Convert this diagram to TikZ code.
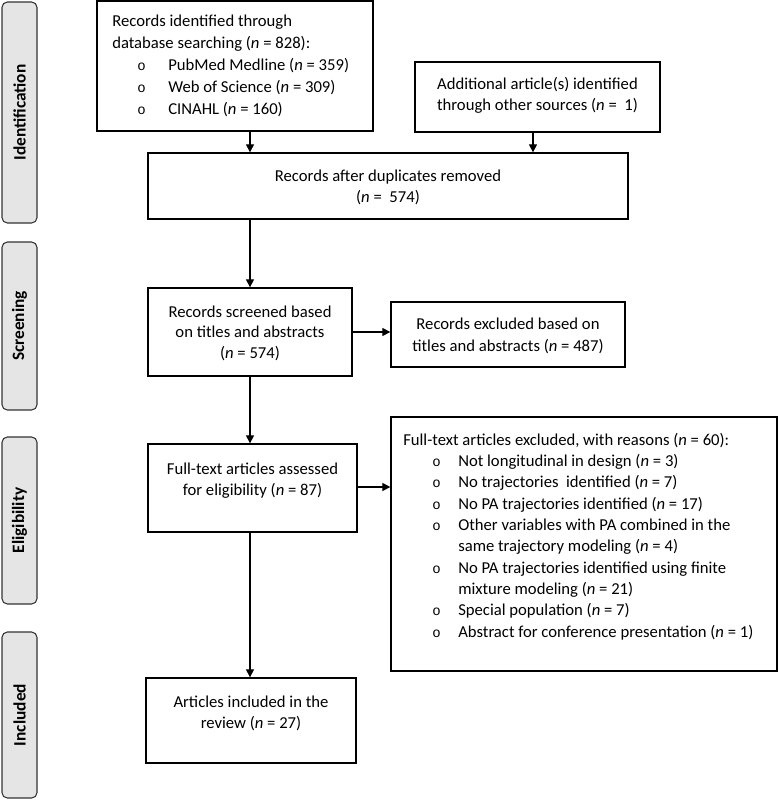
\documentclass[tikz,border=0pt]{standalone}
\usepackage{fontspec}
\setmainfont{Carlito}
\newfontfamily\bulletfont{Liberation Mono}
\usetikzlibrary{arrows.meta}
\newcommand{\nn}{\textit{n}}
\newcommand{\bulA}[1]{\hspace*{18.75pt}\makebox[23.25pt][l]{\bulletfont\fontsize{10.5pt}{10pt}\selectfont o}#1}
\newcommand{\bulB}[1]{\hspace*{21.75pt}\makebox[19.5pt][l]{\bulletfont\fontsize{10.5pt}{10pt}\selectfont o}#1}
\begin{document}
\begin{tikzpicture}[x=0.75pt,y=-0.75pt,
  box/.style={draw=black, line width=1pt, inner sep=0pt},
  sidebox/.style={draw=black!80, fill=black!10, rounded corners=4pt, line width=0.8pt, minimum width=26.25pt, inner sep=0pt},
  txt/.style={font=\fontsize{12.5pt}{16pt}\selectfont, inner sep=0pt},
  sidetxt/.style={font=\fontsize{13pt}{16pt}\selectfont\bfseries, rotate=90, inner sep=0pt},
  arr/.style={-{Triangle[length=6pt,width=6pt]}, line width=0.9pt}]
\useasboundingbox (0,0) rectangle (779,800);
% side phase boxes
\node[sidebox, minimum height=165.75pt] (s1) at (19.5,112.5) {};
\node[sidebox, minimum height=126pt] (s2) at (19.5,326) {};
\node[sidebox, minimum height=125.25pt] (s3) at (19.5,520.5) {};
\node[sidebox, minimum height=124.5pt] (s4) at (19.5,715) {};
\node[sidetxt] (l1) at (s1.center) {Identification};
\node[sidetxt] (l2) at (s2.center) {Screening};
\node[sidetxt] (l3) at (s3.center) {Eligibility};
\node[sidetxt] (l4) at (s4.center) {Included};
% boxes
\node[box, minimum width=207pt, minimum height=97.5pt] (b1) at (235,66) {};
\node[box, minimum width=183.75pt, minimum height=52.5pt] (b2) at (537.5,97) {};
\node[box, minimum width=360pt, minimum height=49.5pt] (b3) at (388,186) {};
\node[box, minimum width=153pt, minimum height=66pt] (b4) at (250,332) {};
\node[box, minimum width=175.5pt, minimum height=48.75pt] (b5) at (508,334.5) {};
\node[box, minimum width=156.75pt, minimum height=66pt] (b6) at (252.5,488) {};
\node[box, minimum width=289.5pt, minimum height=190.5pt] (b7) at (584,544) {};
\node[box, minimum width=157.5pt, minimum height=63.75pt] (b8) at (251,720.5) {};
% texts
\node[txt, anchor=west, align=left, font=\fontsize{12.5pt}{16.5pt}\selectfont] (t1) at (112,66) {Records identified through\\
database searching (\nn{} = 828):\\
\bulA{PubMed Medline (\nn{} = 359)}\\
\bulA{Web of Science (\nn{} = 309)}\\
\bulA{CINAHL (\nn{} = 160)}};
\node[txt, align=center] (t2) at (537.5,95.5) {Additional article(s) identified\\ through other sources (\nn{} =\ \ 1)};
\node[txt, align=center] (t3) at (388,187.5) {Records after duplicates removed\\ (\nn{} =\ \ 574)};
\node[txt, align=center, font=\fontsize{12.5pt}{15.4pt}\selectfont] (t4) at (250,333) {Records screened based\\ on titles and abstracts\\ (\nn{} = 574)};
\node[txt, align=center] (t5) at (508,336) {Records excluded based on\\ titles and abstracts (\nn{} = 487)};
\node[txt, align=center] (t6) at (252.5,480.5) {Full-text articles assessed\\ for eligibility (\nn{} = 87)};
\node[txt, anchor=west, align=left] (t7) at (403,536.5) {Full-text articles excluded, with reasons (\nn{} = 60):\\
\bulB{Not longitudinal in design (\nn{} = 3)}\\
\bulB{No trajectories\ \ identified (\nn{} = 7)}\\
\bulB{No PA trajectories identified (\nn{} = 17)}\\
\bulB{Other variables with PA combined in the}\\
\hspace*{41.25pt}same trajectory modeling (\nn{} = 4)\\
\bulB{No PA trajectories identified using finite}\\
\hspace*{41.25pt}mixture modeling (\nn{} = 21)\\
\bulB{Special population (\nn{} = 7)}\\
\bulB{Abstract for conference presentation (\nn{} = 1)}};
\node[txt, align=center] (t8) at (251,713.5) {Articles included in the\\ review (\nn{} = 27)};
% connectors
\coordinate (cx) at (250,0);
\coordinate (cy) at (533,0);
\coordinate (cz) at (0,487);
\draw[arr] (cx |- b1.south) -- (cx |- b3.north);
\draw[arr] (cy |- b2.south) -- (cy |- b3.north);
\draw[arr] (cx |- b3.south) -- (cx |- b4.north);
\draw[arr] (b4.east) -- (b4.east -| b5.west);
\draw[arr] (cx |- b4.south) -- (cx |- b6.north);
\draw[arr] (cz -| b6.east) -- (cz -| b7.west);
\draw[arr] (cx |- b6.south) -- (cx |- b8.north);
\end{tikzpicture}
\end{document}
